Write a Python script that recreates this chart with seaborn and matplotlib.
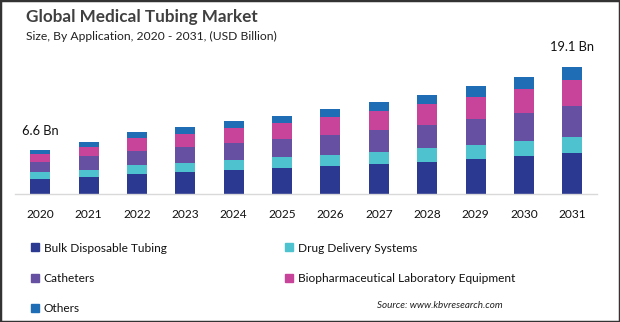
import matplotlib
matplotlib.use("Agg")
import matplotlib.pyplot as plt
import seaborn as sns
import pandas as pd
import numpy as np
from matplotlib.patches import Rectangle
from matplotlib.lines import Line2D

# ---------------- data ----------------
years = [str(y) for y in range(2020, 2032)]
bulk_disposable = [2.25, 2.60, 3.05, 3.35, 3.60, 3.90, 4.20, 4.50, 4.80, 5.25, 5.70, 6.15]
drug_delivery = [1.00, 1.05, 1.35, 1.35, 1.50, 1.65, 1.65, 1.80, 2.10, 2.10, 2.25, 2.40]
catheters = [1.50, 2.00, 2.10, 2.40, 2.55, 2.70, 2.95, 3.30, 3.45, 3.90, 4.20, 4.65]
biopharma = [1.30, 1.45, 1.95, 1.90, 2.25, 2.40, 2.75, 2.85, 3.15, 3.30, 3.60, 3.90]
others = [0.55, 0.75, 0.90, 1.10, 1.10, 1.10, 1.25, 1.40, 1.40, 1.70, 1.85, 2.00]

series_names = ["Bulk Disposable Tubing", "Drug Delivery Systems", "Catheters",
                "Biopharmaceutical Laboratory Equipment", "Others"]
series_values = [bulk_disposable, drug_delivery, catheters, biopharma, others]
colors = ["#2B3990", "#4EC3CF", "#6650A2", "#C8449B", "#1F6DB5"]

annot_years = ["2020", "2031"]
annot_labels = ["6.6 Bn", "19.1 Bn"]

title = "Global Medical Tubing Market"
subtitle = "Size, By Application, 2020 - 2031, (USD Billion)"
source = "Source: www.kbvresearch.com"

# ---------------- frame ----------------
rows = []
for name, vals in zip(series_names, series_values):
    for yr, v in zip(years, vals):
        rows.append({"year": yr, "series": name, "value": v})
df = pd.DataFrame(rows)
df["cum"] = df.groupby("year")["value"].cumsum()

sns.set_style("white")
plt.rcParams["font.family"] = ["Lato", "DejaVu Sans"]

W, H = 620, 322
fig = plt.figure(figsize=(W / 100, H / 100), dpi=100)
fig.patch.set_facecolor("white")
ax = fig.add_axes([15 / W, 1 - 194 / H, 582 / W, 144 / H])

# draw stacked bars: cumulative totals, top layer first
for name, col in reversed(list(zip(series_names, colors))):
    sub = df[df["series"] == name]
    sns.barplot(data=sub, x="year", y="cum", order=years, color=col,
                width=0.413, ax=ax, saturation=1, errorbar=None, linewidth=0)

ax.set_xlim(-0.52, 11.51)
ax.set_ylim(0, 21.6)
ax.set_xlabel("")
ax.set_ylabel("")
ax.set_yticks([])
for s in ["left", "right", "top"]:
    ax.spines[s].set_visible(False)
ax.spines["bottom"].set_color("#d9d9d9")
ax.spines["bottom"].set_linewidth(1.0)
ax.tick_params(axis="x", length=0, pad=11, labelsize=8.6, colors="#111111")

totals = df.groupby("year")["value"].sum()
for yr, lab in zip(annot_years, annot_labels):
    i = years.index(yr)
    ax.annotate(lab, xy=(i, totals[yr]), xytext=(0, 14), textcoords="offset points",
                ha="center", va="center", fontsize=9.3, color="#111111")

fig.text(26 / W, 1 - 17 / H, title, fontsize=12.3, fontweight="bold",
         color="#404040", va="center", ha="left")
fig.text(26 / W, 1 - 36 / H, subtitle, fontsize=8.7, color="#222222",
         va="center", ha="left")
fig.text(503 / W, 1 - 306 / H, source, fontsize=7.1, style="italic",
         color="#222222", va="center", ha="right")

def handle(c):
    return Line2D([], [], marker="s", color=c, linestyle="none", markersize=5.5)

col1 = [0, 2, 4]
col2 = [1, 3]
for idxs, x0 in [(col1, 30), (col2, 284)]:
    fig.legend(handles=[handle(colors[i]) for i in idxs],
               labels=[series_names[i] for i in idxs],
               loc="upper left", bbox_to_anchor=(x0 / W, 1 - 242.5 / H),
               frameon=False, fontsize=8.6, handlelength=0.8, handletextpad=0.35,
               labelspacing=1.62, borderpad=0, borderaxespad=0, labelcolor="#111111")

fig.patches.append(Rectangle((0, 0), 1, 1, transform=fig.transFigure, fill=False,
                             edgecolor="#333333", linewidth=2.5))

fig.savefig("out.png", dpi=100, facecolor="white")
